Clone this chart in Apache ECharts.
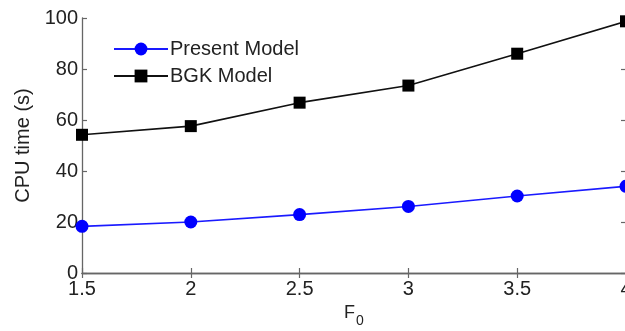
<!DOCTYPE html>
<html><head><meta charset="utf-8">
<script src="https://cdn.jsdelivr.net/npm/echarts@6/dist/echarts.min.js"></script>
<style>html,body{margin:0;padding:0;background:#fff}#c{width:625px;height:331px}</style>
</head><body><div id="c"></div>
<script>
const xValues = [1.5, 2, 2.5, 3, 3.5, 4];
const presentModel = [18.3, 20.0, 22.9, 26.1, 30.2, 34.0];
const bgkModel = [54.2, 57.6, 66.8, 73.5, 86.0, 98.7];
const seriesNames = ['Present Model', 'BGK Model'];
const yTitle = 'CPU time (s)';

const chart = echarts.init(document.getElementById('c'), null, {renderer: 'canvas'});
const axisLine = {show: true, lineStyle: {color: '#666', width: 1.3}};
const tick = {inside: true, length: 5, lineStyle: {color: '#666', width: 1.2}};
const font = 'Liberation Sans, Arial, sans-serif';
const pair = (xs, ys) => xs.map((x, i) => [x, ys[i]]);
chart.setOption({
  animation: false,
  backgroundColor: '#fff',
  grid: {left: 82, right: -1, top: 18, bottom: 58, containLabel: false, outerBoundsMode: 'none'},
  legend: {
    left: 108, top: 34, orient: 'vertical', itemGap: 7, itemWidth: 54, itemHeight: 16,
    textStyle: {fontFamily: font, fontSize: 20, color: '#222', padding: [0, 0, 0, -3]},
    data: seriesNames
  },
  xAxis: [{
    type: 'value', min: 1.5, max: 4, interval: 0.5, position: 'bottom',
    axisLine: axisLine, splitLine: {show: false}, axisTick: tick,
    axisLabel: {fontFamily: font, fontSize: 20, color: '#222', margin: 6},
    name: '{a|F}{b|0}', nameLocation: 'middle', nameGap: 24,
    nameTextStyle: {rich: {a: {fontFamily: font, fontSize: 18, color: '#222'}, b: {fontFamily: font, fontSize: 14, color: '#222', padding: [16, 0, 0, 1]}}}
  }, {
    type: 'value', min: 1.5, max: 4, interval: 0.5, position: 'top',
    axisLine: axisLine, splitLine: {show: false}, axisTick: tick,
    axisLabel: {show: false}
  }],
  yAxis: [{
    type: 'value', min: 0, max: 100, interval: 20, position: 'left',
    axisLine: axisLine, splitLine: {show: false}, axisTick: tick,
    axisLabel: {fontFamily: font, fontSize: 20, color: '#222', margin: 4},
    name: yTitle, nameLocation: 'middle', nameGap: 48, nameRotate: 90,
    nameTextStyle: {fontFamily: font, fontSize: 20, color: '#222'}
  }, {
    type: 'value', min: 0, max: 100, interval: 20, position: 'right',
    axisLine: axisLine, splitLine: {show: false}, axisTick: tick,
    axisLabel: {show: false}
  }],
  series: [{
    name: seriesNames[0], type: 'line', data: pair(xValues, presentModel),
    symbol: 'circle', symbolSize: 13,
    lineStyle: {color: '#1a1aff', width: 1.6}, itemStyle: {color: '#0000ff'}
  }, {
    name: seriesNames[1], type: 'line', data: pair(xValues, bgkModel),
    symbol: 'rect', symbolSize: 12,
    lineStyle: {color: '#111', width: 1.6}, itemStyle: {color: '#000'}
  }]
});
</script></body></html>
